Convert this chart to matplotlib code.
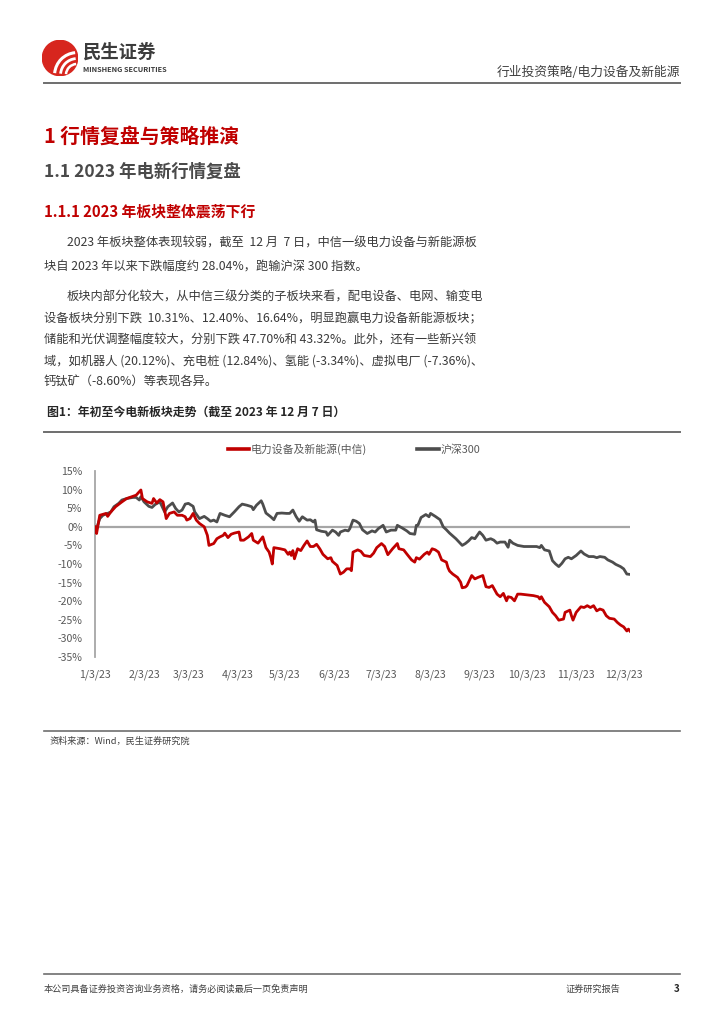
import matplotlib
matplotlib.use("Agg")
import matplotlib.pyplot as plt
from matplotlib.lines import Line2D
from matplotlib.patches import Circle, Arc
import pandas as pd

plt.rcParams['font.family'] = ['Noto Sans CJK SC', 'DejaVu Sans']

# ---------------- data ----------------
start_date = "2023-01-03"
red_name = "电力设备及新能源(中信)"
gray_name = "沪深300"

red_days = [0, 1, 3, 7, 8, 10, 13, 17, 20, 26, 29, 30, 33, 36, 37, 39, 41, 43, 45, 47, 50, 52, 55, 57, 58, 60,
            62, 64, 66, 69, 71, 72, 75, 77, 79, 81, 82, 84, 86, 88, 91, 92, 94, 97, 99, 100, 103, 106, 108, 110,
            111, 112, 113, 117, 120, 122, 123, 124, 125, 126, 128, 130, 132, 134, 136, 138, 140, 142, 144, 147,
            149, 150, 153, 155, 157, 159, 161, 162, 163, 166, 168, 170, 174, 176, 178, 181, 183, 185, 188, 191,
            192, 195, 197, 200, 202, 203, 205, 208, 210, 211, 213, 215, 217, 219, 222, 223, 224, 226, 229, 231,
            232, 234, 235, 237, 238, 240, 242, 245, 247, 249, 251, 254, 256, 258, 260, 261, 263, 265, 267, 269,
            273, 277, 280, 281, 282, 284, 287, 289, 291, 293, 296, 297, 300, 301, 302, 304, 307, 309, 311, 313,
            315, 317, 319, 321, 323, 325, 328, 330, 332, 334, 336, 337, 338]
red_vals = [0.0, -1.8, 3.1, 3.6, 2.8, 4.0, 5.4, 6.7, 7.6, 8.5, 9.9, 7.6, 6.7, 6.3, 7.6, 6.4, 7.3, 6.7, 2.2, 3.6,
            4.0, 3.1, 3.1, 2.7, 1.8, 2.2, 3.6, 1.8, 0.9, 0.0, -2.3, -5.0, -4.5, -3.2, -2.7, -2.3, -1.7, -2.9,
            -2.0, -1.7, -1.4, -3.6, -3.6, -2.7, -1.8, -3.6, -4.4, -2.7, -5.6, -6.8, -8.2, -10.0, -5.6, -5.9,
            -6.2, -7.4, -6.8, -7.7, -6.4, -8.6, -5.9, -6.4, -5.0, -3.8, -5.3, -5.3, -4.7, -5.9, -7.4, -8.6,
            -8.3, -9.3, -10.4, -12.7, -12.2, -11.3, -11.3, -11.8, -6.8, -6.2, -6.6, -7.7, -8.0, -7.1, -5.6,
            -4.5, -5.3, -7.5, -5.9, -4.5, -5.9, -6.2, -7.3, -8.9, -9.5, -8.3, -8.7, -7.4, -6.8, -7.4, -5.9,
            -6.2, -6.8, -8.9, -9.5, -11.0, -11.9, -12.7, -13.6, -14.9, -16.4, -16.2, -15.8, -14.0, -13.1,
            -14.0, -13.6, -13.1, -16.1, -16.3, -15.8, -18.1, -18.8, -17.9, -19.9, -18.8, -19.0, -19.9, -18.1,
            -18.1, -18.3, -18.5, -18.8, -19.4, -18.8, -20.3, -21.5, -23.0, -23.9, -25.1, -24.8, -23.0, -22.4,
            -23.9, -25.1, -23.0, -21.5, -21.7, -21.2, -21.7, -21.2, -22.6, -22.1, -22.4, -23.9, -24.6, -24.8,
            -25.7, -26.4, -26.9, -28.0, -27.5, -28.04]

gray_days = [0, 1, 3, 5, 8, 10, 12, 15, 17, 20, 24, 26, 28, 29, 31, 34, 36, 38, 41, 42, 44, 46, 49, 51, 53, 55,
             57, 59, 62, 63, 66, 69, 71, 73, 75, 77, 79, 82, 85, 88, 91, 93, 96, 99, 100, 102, 105, 106, 108,
             111, 113, 115, 118, 121, 123, 125, 127, 129, 131, 134, 136, 138, 139, 140, 143, 146, 147, 150, 152,
             154, 155, 158, 160, 161, 163, 165, 167, 169, 172, 175, 177, 179, 182, 184, 187, 190, 191, 194, 197,
             199, 202, 203, 204, 206, 209, 211, 212, 215, 218, 220, 222, 224, 228, 230, 232, 234, 236, 238, 240,
             243, 245, 247, 250, 252, 254, 256, 259, 261, 262, 264, 267, 271, 275, 279, 281, 282, 284, 287, 289,
             291, 293, 295, 297, 299, 301, 304, 307, 309, 312, 315, 317, 319, 322, 324, 327, 329, 332, 334, 336,
             338]
gray_vals = [0.0, -0.5, 2.2, 3.1, 3.6, 4.0, 5.4, 6.3, 7.2, 7.6, 7.9, 7.9, 7.2, 8.1, 6.7, 5.5, 5.2, 6.0, 6.7, 5.8,
             4.0, 5.4, 6.4, 4.9, 4.0, 4.5, 6.1, 6.3, 5.5, 4.0, 2.2, 2.8, 2.2, 1.5, 1.8, 1.3, 3.6, 3.1, 2.7, 4.0,
             5.4, 6.1, 5.8, 5.4, 4.6, 5.8, 7.0, 6.1, 3.7, 2.7, 1.9, 3.6, 3.7, 3.6, 3.6, 4.5, 2.8, 1.5, 2.7, 1.8,
             1.9, 1.3, 1.8, -0.8, -1.2, -1.4, -2.3, -0.9, -1.4, -2.3, -1.4, -0.9, -1.1, -0.5, 1.8, 1.5, 0.9,
             -0.8, -1.8, -1.1, -1.4, -0.5, 0.4, -1.4, -0.9, -0.9, 0.4, -0.3, -1.1, -1.8, -2.0, 0.4, 0.4, 2.5,
             3.3, 2.7, 3.6, 2.8, 1.9, 0.0, -0.8, -1.7, -3.2, -4.1, -5.0, -4.5, -3.8, -2.9, -3.2, -1.4, -2.3,
             -3.6, -3.2, -3.6, -4.4, -4.1, -4.1, -5.5, -3.6, -4.4, -5.0, -5.3, -5.3, -5.3, -5.6, -5.0, -6.2,
             -6.5, -9.1, -10.0, -10.7, -9.8, -8.6, -8.2, -8.6, -7.7, -6.5, -7.3, -8.0, -8.0, -8.3, -8.0, -8.2,
             -8.9, -9.5, -10.1, -10.7, -11.3, -12.7, -12.8]

x_tick_dates = ["2023-01-03", "2023-02-03", "2023-03-03", "2023-04-03", "2023-05-03", "2023-06-03",
                "2023-07-03", "2023-08-03", "2023-09-03", "2023-10-03", "2023-11-03", "2023-12-03"]
x_tick_labels = ["1/3/23", "2/3/23", "3/3/23", "4/3/23", "5/3/23", "6/3/23",
                 "7/3/23", "8/3/23", "9/3/23", "10/3/23", "11/3/23", "12/3/23"]
y_ticks = [15, 10, 5, 0, -5, -10, -15, -20, -25, -30, -35]
end_date = "2023-12-07"

# ---------------- page ----------------
W, H = 724, 1024
fig = plt.figure(figsize=(W / 100, H / 100), dpi=100)
fig.patch.set_facecolor("white")


def fx(x):
    return x / W


def fy(y):
    return 1 - y / H


def hline(x0, x1, y, color="#595959", lw=1.2):
    fig.add_artist(Line2D([fx(x0), fx(x1)], [fy(y), fy(y)], color=color, lw=lw,
                          transform=fig.transFigure))


def txt(x, y, s, size, color="#333333", weight="normal", ha="left", va="center", **kw):
    fig.text(fx(x), fy(y), s, fontsize=size, color=color, fontweight=weight, ha=ha, va=va, **kw)


RED = "#C00000"

# logo
lax = fig.add_axes([fx(42), fy(76), 36 / W, 36 / H])
lax.set_xlim(-1, 1)
lax.set_ylim(-1, 1)
lax.set_aspect("equal")
lax.axis("off")
lax.add_patch(Circle((0, 0), 0.98, color="#D7261E"))
for r, lw in [(0.95, 2.2), (0.62, 2.0), (0.32, 1.8)]:
    lax.add_patch(Arc((0.95, -0.95), 2 * r + 0.6, 2 * r + 0.6, theta1=95, theta2=175,
                      color="white", lw=lw))
txt(83, 52, "民生证券", 13.2, color="#3C3C3C", weight="bold")
txt(83, 70, "MINSHENG SECURITIES", 5.3, color="#3C3C3C", weight="bold")

txt(680, 72, "行业投资策略/电力设备及新能源", 9.2, color="#404040", ha="right")
hline(44, 680, 83, color="#6E6E6E", lw=1.4)

# headings
txt(44, 136, "1 行情复盘与策略推演", 14.3, color=RED, weight="bold")
txt(44, 172, "1.1 2023 年电新行情复盘", 12.5, color="#4A4A4A", weight="bold")
txt(44, 212, "1.1.1 2023 年板块整体震荡下行", 10.7, color=RED, weight="bold")

body = [
    (67, 243, "2023 年板块整体表现较弱，截至  12 月  7 日，中信一级电力设备与新能源板"),
    (44, 267, "块自 2023 年以来下跌幅度约 28.04%，跑输沪深 300 指数。"),
    (67, 297, "板块内部分化较大，从中信三级分类的子板块来看，配电设备、电网、输变电"),
    (44, 319, "设备板块分别下跌  10.31%、12.40%、16.64%，明显跑赢电力设备新能源板块；"),
    (44, 340, "储能和光伏调整幅度较大，分别下跌 47.70%和 43.32%。此外，还有一些新兴领"),
    (44, 361, "域，如机器人 (20.12%)、充电桩 (12.84%)、氢能 (-3.34%)、虚拟电厂 (-7.36%)、"),
    (44, 382, "钙钛矿（-8.60%）等表现各异。"),
]
for x, y, s in body:
    txt(x, y, s, 8.8, color="#3A3A3A")

txt(47, 412, "图1：年初至今电新板块走势（截至 2023 年 12 月 7 日）", 8.6, color="#262626", weight="bold")
hline(44, 680, 432, color="#6E6E6E", lw=1.4)

# ---------------- chart ----------------
x0, x1, ytop, ybot = 95, 630, 471, 657
ax = fig.add_axes([fx(x0), fy(ybot), (x1 - x0) / W, (ybot - ytop) / H])
base = pd.Timestamp(start_date)
red_x = base + pd.to_timedelta(red_days, unit="D")
gray_x = base + pd.to_timedelta(gray_days, unit="D")

ax.axhline(0, color="#A6A6A6", lw=1.6, zorder=1)
ax.plot(red_x, red_vals, color=RED, lw=2.0, label=red_name, zorder=3, solid_joinstyle="round")
ax.plot(gray_x, gray_vals, color="#4D4D4D", lw=2.0, label=gray_name, zorder=2, solid_joinstyle="round")

ax.set_xlim(base, pd.Timestamp(end_date))
ax.set_ylim(-35, 15)
ax.set_yticks(y_ticks)
ax.set_yticklabels([f"{v}%" for v in y_ticks])
ax.set_xticks(pd.to_datetime(x_tick_dates))
ax.set_xticklabels(x_tick_labels)
ax.tick_params(axis="both", length=0, labelsize=7.6, colors="#595959")
ax.tick_params(axis="y", pad=9)
ax.tick_params(axis="x", pad=9)
for s in ["top", "right", "bottom"]:
    ax.spines[s].set_visible(False)
ax.spines["left"].set_color("#A6A6A6")
ax.spines["left"].set_linewidth(1.3)
ax.patch.set_alpha(0)

leg = ax.legend(loc="center", bbox_to_anchor=(fx(354), fy(449)), bbox_transform=fig.transFigure,
                ncol=2, frameon=False, fontsize=7.8, handlelength=2.0, handletextpad=0.15,
                columnspacing=4.6)
for t in leg.get_texts():
    t.set_color("#595959")
for h in leg.get_lines():
    h.set_linewidth(2.6)

hline(44, 680, 731, color="#6E6E6E", lw=1.2)
txt(50, 741, "资料来源：Wind，民生证券研究院", 6.6, color="#404040")

# footer
hline(44, 680, 974, color="#6E6E6E", lw=1.2)
txt(44, 989, "本公司具备证券投资咨询业务资格，请务必阅读最后一页免责声明", 6.6, color="#404040")
txt(566, 989, "证券研究报告", 6.6, color="#404040")
txt(680, 989, "3", 7, color="#262626", weight="bold", ha="right")

fig.savefig("out.png", dpi=100, facecolor="white")
